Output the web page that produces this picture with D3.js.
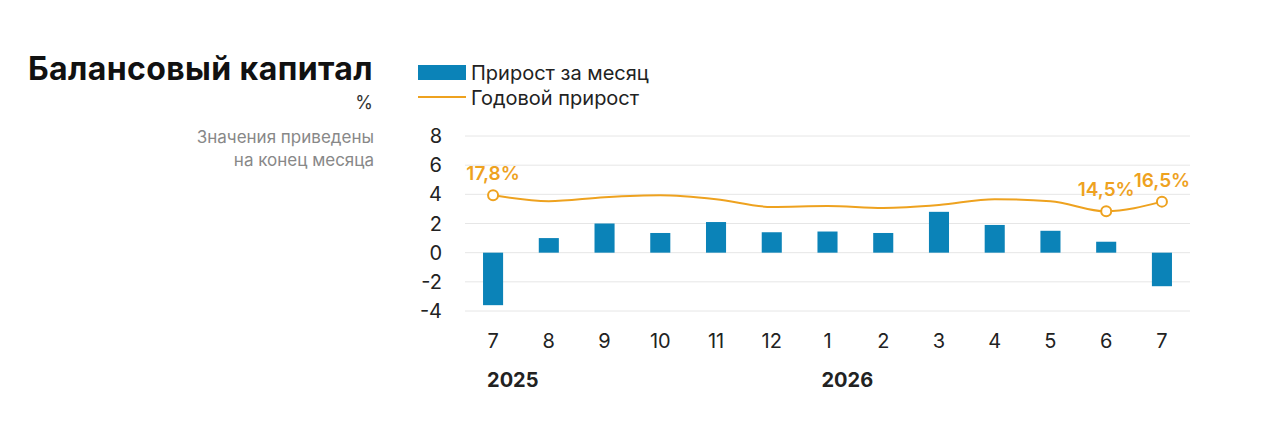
<!DOCTYPE html>
<html><head><meta charset="utf-8">
<script src="https://cdn.jsdelivr.net/npm/d3@7"></script>
<style>body{margin:0;background:#fff}text{font-family:Inter,"Open Sans",sans-serif}</style>
</head><body>
<svg id="c" width="1280" height="428"></svg>
<script>
var months = ['7','8','9','10','11','12','1','2','3','4','5','6','7'];
var monthly = [-3.6, 1.0, 2.0, 1.35, 2.1, 1.4, 1.45, 1.35, 2.8, 1.9, 1.5, 0.75, -2.3];
var yearly = [17.8, 16.6, 17.4, 17.8, 17.0, 15.4, 15.6, 15.2, 15.8, 17.0, 16.6, 14.5, 16.5];
var yTicks = [8, 6, 4, 2, 0, -2, -4];
var yearLabels = [{i: 0, t: '2025'}, {i: 6, t: '2026'}];
var labelled = [0, 11, 12];

var blue = '#0b83b8', orange = '#eea21f';
var svg = d3.select('#c');

var x = d3.scaleBand().domain(d3.range(months.length)).range([473, 1182]).paddingInner(0.64).paddingOuter(0.18);
var y = d3.scaleLinear().domain([-4, 8]).range([311, 136]);
// hidden secondary scale for the yearly line
var y2 = d3.scaleLinear().domain([6, 30]).range([y(0), y(8)]);

svg.selectAll('.grid').data(yTicks).enter().append('line')
  .attr('x1', 465).attr('x2', 1190).attr('y1', d => y(d)).attr('y2', d => y(d))
  .attr('stroke', '#e6e6e6').attr('stroke-width', 1);
svg.selectAll('.yl').data(yTicks).enter().append('text')
  .attr('x', 442).attr('y', d => y(d) + 7).attr('text-anchor', 'end')
  .attr('font-size', 20).attr('fill', '#222').text(d => d);

svg.selectAll('.bar').data(monthly).enter().append('rect')
  .attr('x', (d, i) => x(i)).attr('width', x.bandwidth())
  .attr('y', d => y(Math.max(0, d))).attr('height', d => Math.abs(y(d) - y(0)))
  .attr('fill', blue);

var cx = i => x(i) + x.bandwidth() / 2;
svg.append('path').datum(yearly)
  .attr('d', d3.line().x((d, i) => cx(i)).y(d => y2(d)).curve(d3.curveMonotoneX))
  .attr('fill', 'none').attr('stroke', orange).attr('stroke-width', 2);
labelled.forEach(function(i){
  svg.append('circle').attr('cx', cx(i)).attr('cy', y2(yearly[i])).attr('r', 5)
    .attr('fill', '#fff').attr('stroke', orange).attr('stroke-width', 2);
  svg.append('text').attr('x', cx(i)).attr('y', y2(yearly[i]) - 15).attr('text-anchor', 'middle')
    .attr('font-size', 19).attr('font-weight', 600).attr('fill', orange)
    .text(String(yearly[i]).replace('.', ',') + '%');
});

svg.selectAll('.xl').data(months).enter().append('text')
  .attr('x', (d, i) => cx(i)).attr('y', 348).attr('text-anchor', 'middle')
  .attr('font-size', 20).attr('fill', '#222').text(d => d);
svg.selectAll('.yr').data(yearLabels).enter().append('text')
  .attr('x', d => x(d.i) + 4).attr('y', 387)
  .attr('font-size', 20).attr('font-weight', 700).attr('fill', '#222').text(d => d.t);

// legend
svg.append('rect').attr('x', 418).attr('y', 65).attr('width', 48).attr('height', 15).attr('fill', blue);
svg.append('text').attr('x', 471).attr('y', 80).attr('font-size', 20).attr('fill', '#222').text('Прирост за месяц');
svg.append('line').attr('x1', 418).attr('x2', 466).attr('y1', 97).attr('y2', 97).attr('stroke', orange).attr('stroke-width', 2);
svg.append('text').attr('x', 471).attr('y', 105).attr('font-size', 20).attr('fill', '#222').text('Годовой прирост');

// titles
svg.append('text').attr('x', 373).attr('y', 80).attr('text-anchor', 'end').attr('font-size', 32)
  .attr('font-weight', 700).attr('fill', '#111').attr('letter-spacing', 0.4).text('Балансовый капитал');
svg.append('text').attr('x', 373).attr('y', 109).attr('text-anchor', 'end').attr('font-size', 18).attr('fill', '#333').text('%');
svg.append('text').attr('x', 374).attr('y', 143).attr('text-anchor', 'end').attr('font-size', 17).attr('fill', '#888').text('Значения приведены');
svg.append('text').attr('x', 374).attr('y', 166).attr('text-anchor', 'end').attr('font-size', 17).attr('fill', '#888').text('на конец месяца');
</script>
</body></html>
